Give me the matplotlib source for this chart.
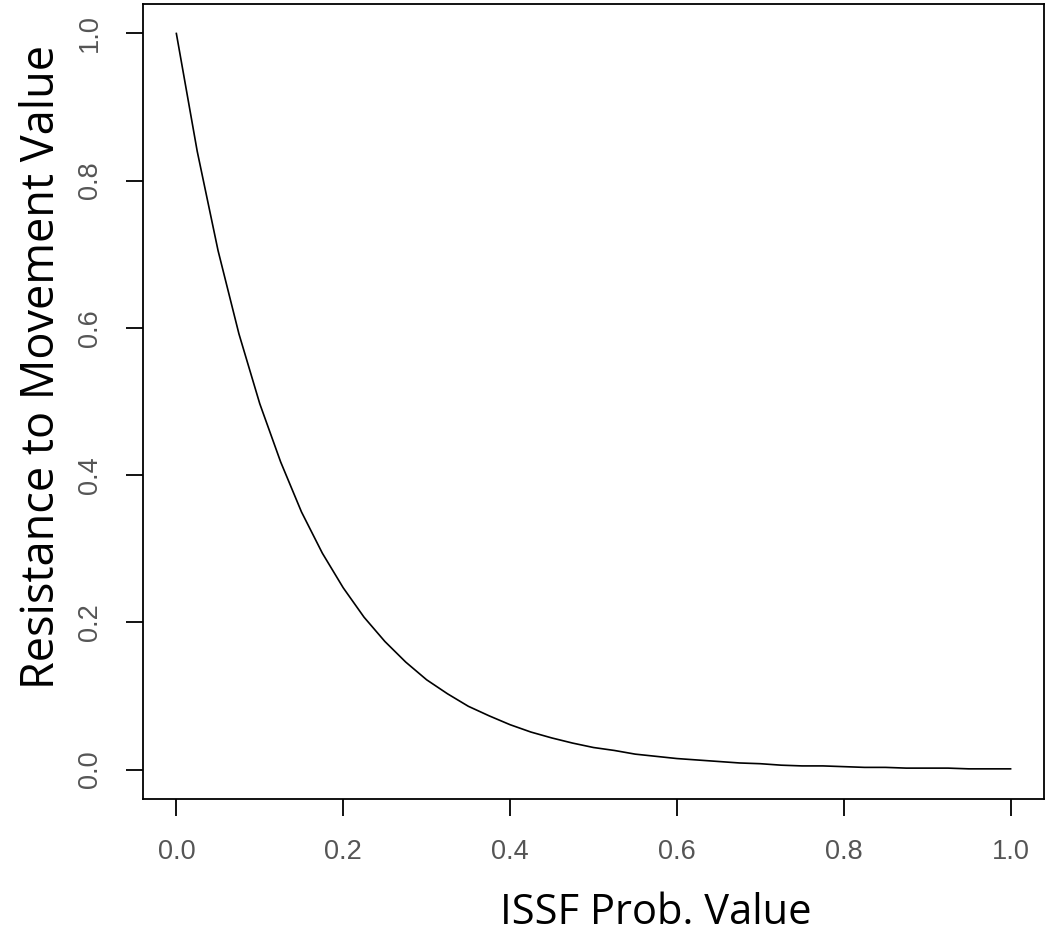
import matplotlib
matplotlib.use('Agg')
import matplotlib.pyplot as plt

# values
issf_prob = [0.000, 0.025, 0.050, 0.075, 0.100, 0.125, 0.150, 0.175, 0.200, 0.225,
             0.250, 0.275, 0.300, 0.325, 0.350, 0.375, 0.400, 0.425, 0.450, 0.475,
             0.500, 0.525, 0.550, 0.575, 0.600, 0.625, 0.650, 0.675, 0.700, 0.725,
             0.750, 0.775, 0.800, 0.825, 0.850, 0.875, 0.900, 0.925, 0.950, 0.975, 1.000]
resistance = [1.000, 0.840, 0.705, 0.592, 0.497, 0.418, 0.350, 0.294, 0.247, 0.207,
              0.174, 0.146, 0.122, 0.103, 0.086, 0.073, 0.061, 0.051, 0.043, 0.036,
              0.030, 0.026, 0.021, 0.018, 0.015, 0.013, 0.011, 0.009, 0.008, 0.006,
              0.005, 0.005, 0.004, 0.003, 0.003, 0.002, 0.002, 0.002, 0.001, 0.001, 0.001]
tick_vals = [0.0, 0.2, 0.4, 0.6, 0.8, 1.0]
tick_labels = ['0.0', '0.2', '0.4', '0.6', '0.8', '1.0']

fig = plt.figure(figsize=(10.56, 9.34), dpi=100)
ax = fig.add_axes([0.1354, 0.1445, 0.8532, 0.8512])

ax.plot(issf_prob, resistance, c='black', lw=1.2)

ax.set_xlim(-0.04, 1.04)
ax.set_ylim(-0.04, 1.04)
ax.set_xticks(tick_vals)
ax.set_yticks(tick_vals)
ax.set_xticklabels(tick_labels, family='Liberation Sans', fontsize=19.5, color='#555555')
ax.set_yticklabels(tick_labels, family='Liberation Sans', fontsize=19.5, color='#555555',
                   rotation=90, va='center')
ax.tick_params(length=12, width=1.3, pad=17)
ax.tick_params(axis='y', pad=17)
for s in ax.spines.values():
    s.set_linewidth(1.3)

# axis titles placed like in the original slide
fig.text(656 / 1056, 1 - 913 / 934, 'ISSF Prob. Value', family='Open Sans',
         fontsize=30, ha='center', va='center')
fig.text(42 / 1056, 1 - 367 / 934, 'Resistance to Movement Value', family='Open Sans',
         fontsize=32.5, ha='center', va='center', rotation=90)

fig.savefig('out.png', dpi=100)
